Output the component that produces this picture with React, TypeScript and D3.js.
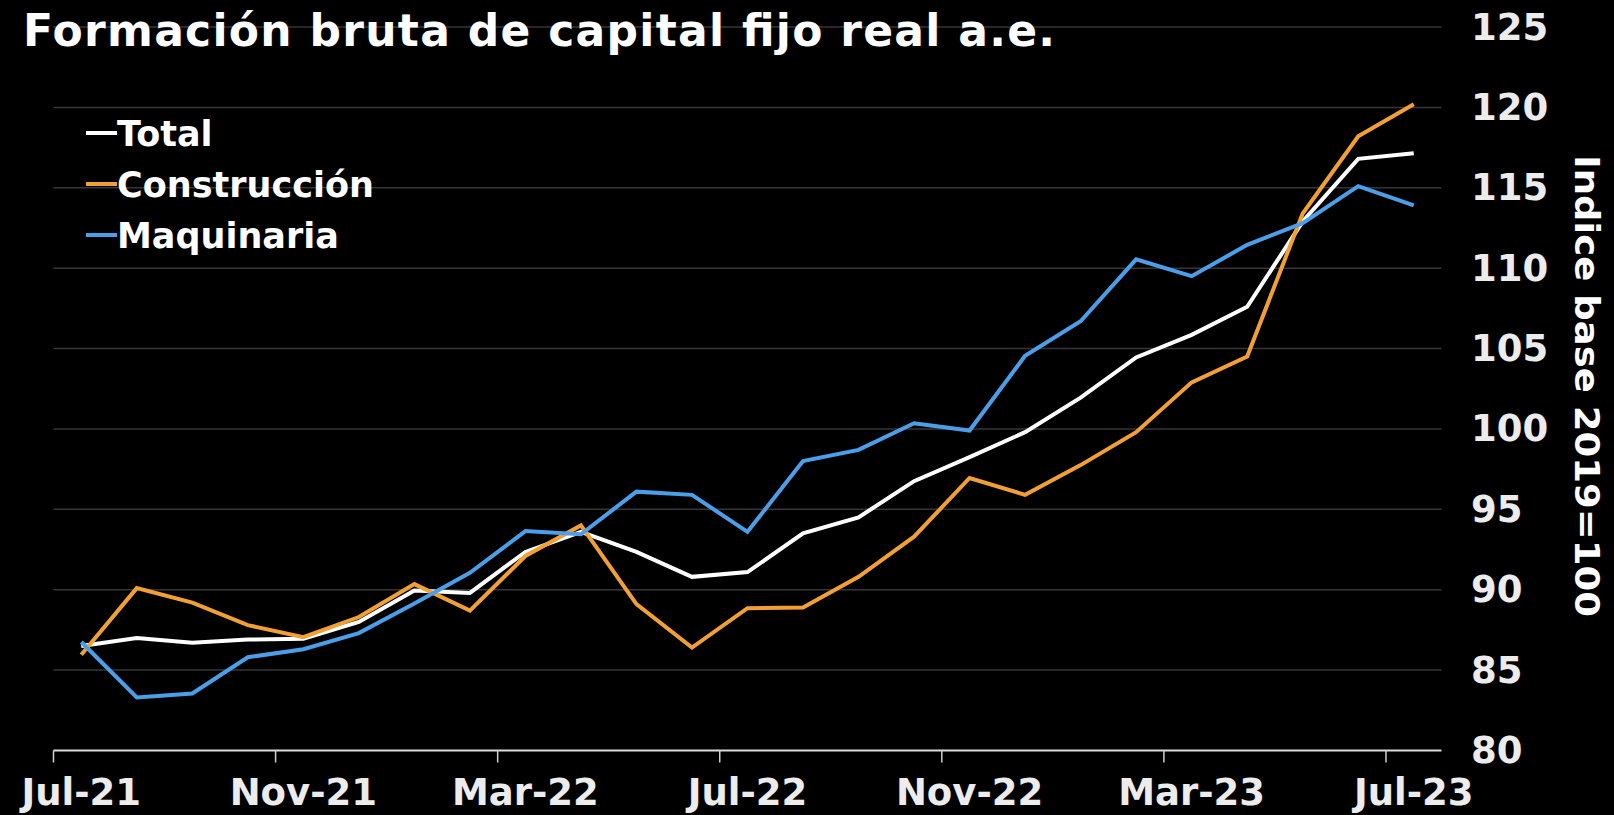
import React from 'react';
import * as d3 from 'd3';

const months = [
  'Jul-21', 'Ago-21', 'Sep-21', 'Oct-21', 'Nov-21', 'Dic-21',
  'Ene-22', 'Feb-22', 'Mar-22', 'Abr-22', 'May-22', 'Jun-22',
  'Jul-22', 'Ago-22', 'Sep-22', 'Oct-22', 'Nov-22', 'Dic-22',
  'Ene-23', 'Feb-23', 'Mar-23', 'Abr-23', 'May-23', 'Jun-23', 'Jul-23',
];

const tickMonths = ['Jul-21', 'Nov-21', 'Mar-22', 'Jul-22', 'Nov-22', 'Mar-23', 'Jul-23'];
const yTicks = [80, 85, 90, 95, 100, 105, 110, 115, 120, 125];

const total = [
  86.5, 87.0, 86.7, 86.9, 86.95, 88.0, 89.95, 89.8, 92.35, 93.6, 92.35, 90.8,
  91.1, 93.5, 94.5, 96.75, 98.25, 99.8, 101.95, 104.45, 105.85, 107.6, 112.9, 116.8, 117.15,
];
const construccion = [
  85.95, 90.1, 89.2, 87.8, 87.05, 88.3, 90.35, 88.7, 92.1, 94.0, 89.1, 86.4,
  88.85, 88.9, 90.8, 93.3, 96.95, 95.9, 97.75, 99.8, 102.9, 104.5, 113.4, 118.2, 120.2,
];
const maquinaria = [
  86.75, 83.3, 83.55, 85.8, 86.3, 87.3, 89.15, 91.05, 93.65, 93.45, 96.1, 95.9,
  93.6, 98.0, 98.7, 100.35, 99.9, 104.55, 106.7, 110.55, 109.5, 111.45, 112.8, 115.1, 113.9,
];

const series = [
  { name: 'Total', color: '#ffffff', values: total },
  { name: 'Construcción', color: '#f2a033', values: construccion },
  { name: 'Maquinaria', color: '#4a9fe8', values: maquinaria },
];

const W = 1614;
const H = 815;
const font = '"DejaVu Sans", Verdana, sans-serif';

export default function App() {
  const x = d3.scaleBand<string>().domain(months).range([53.5, 1441.5]).padding(0);
  const y = d3.scaleLinear().domain([80, 125]).range([750.5, 27]);
  const cx = (m: string) => (x(m) ?? 0) + x.bandwidth() / 2;

  const line = d3
    .line<number>()
    .x((_, i) => cx(months[i]))
    .y((d) => y(d));

  return (
    <svg
      width={W}
      height={H}
      style={{ position: 'absolute', left: 0, top: 0, display: 'block' }}
      fontFamily={font}
      fontWeight="bold"
    >
      <rect x={0} y={0} width={W} height={H} fill="#000" />

      {/* grid */}
      {yTicks.filter((t) => t !== 80).map((t) => (
        <line key={t} x1={53.5} x2={1441.5} y1={y(t)} y2={y(t)} stroke="#363636" strokeWidth={1.5} />
      ))}

      {/* x axis */}
      <line x1={53.5} x2={1441.5} y1={y(80)} y2={y(80)} stroke="#dcdcdc" strokeWidth={2} />
      {tickMonths.map((m) => (
        <g key={m}>
          <line x1={x(m)} x2={x(m)} y1={y(80)} y2={y(80) + 12} stroke="#d0d0d0" strokeWidth={1.5} />
          <text x={cx(m)} y={805} textAnchor="middle" fontSize={37} fill="#ececec">
            {m}
          </text>
        </g>
      ))}

      {/* y labels */}
      {yTicks.map((t) => (
        <text key={t} x={1471} y={y(t)} dominantBaseline="central" fontSize={37} fill="#ececec">
          {t}
        </text>
      ))}

      <text
        transform="translate(1575,386) rotate(90)"
        textAnchor="middle"
        fontSize={33}
        fill="#ffffff"
        textLength={462}
        lengthAdjust="spacingAndGlyphs"
      >
        Indice base 2019=100
      </text>

      {/* lines */}
      {series.map((s) => (
        <path key={s.name} d={line(s.values) ?? ''} fill="none" stroke={s.color} strokeWidth={4} />
      ))}

      {/* title */}
      <text x={23} y={46} fontSize={44} fill="#ffffff" textLength={1032} lengthAdjust="spacing">
        Formación bruta de capital fijo real a.e.
      </text>

      {/* legend */}
      {series.map((s, i) => {
        const ly = 133 + i * 51;
        return (
          <g key={s.name}>
            <line x1={86} x2={117} y1={ly} y2={ly} stroke={s.color} strokeWidth={4} />
            <text x={117} y={ly + 12.5} fontSize={35} fill="#ffffff">
              {s.name}
            </text>
          </g>
        );
      })}
    </svg>
  );
}
